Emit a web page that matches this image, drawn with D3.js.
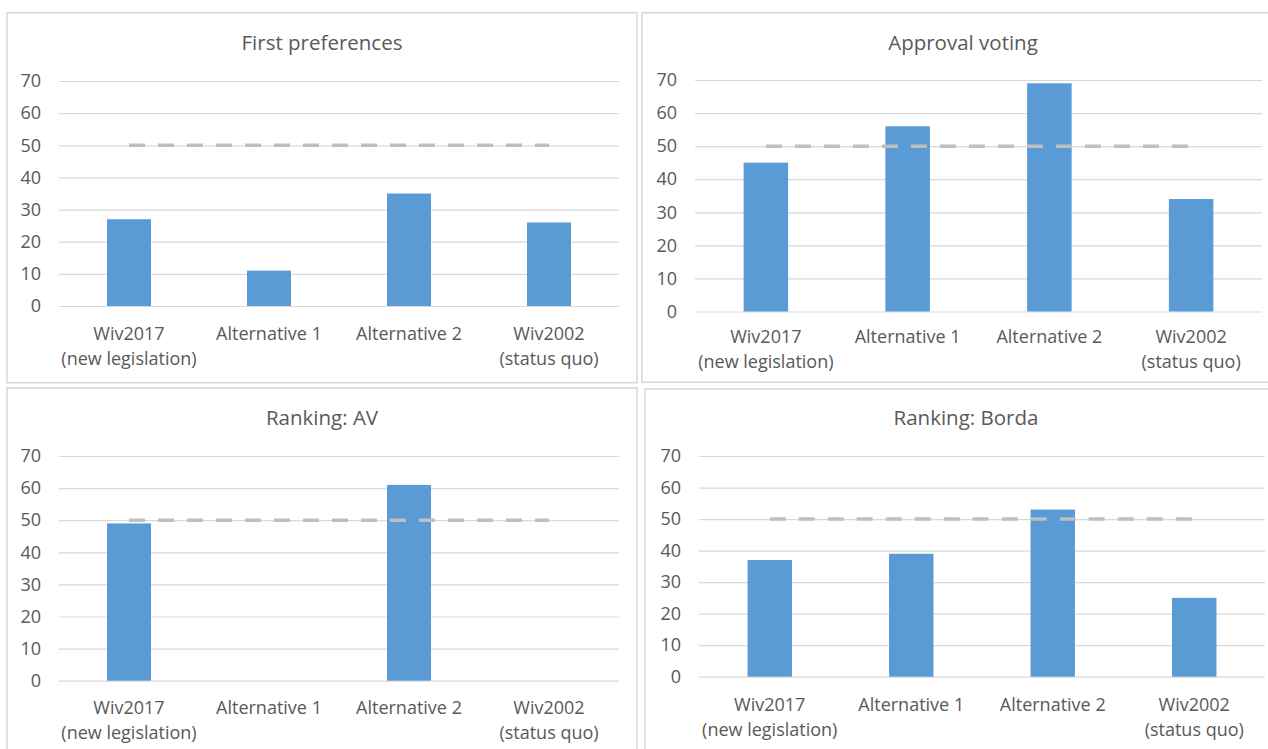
<!DOCTYPE html>
<html>
<head>
<meta charset="utf-8">
<script src="https://cdn.jsdelivr.net/npm/d3@7"></script>
<style>
  html, body { margin: 0; padding: 0; background: #ffffff; }
  svg { display: block; }
  text { font-family: "Open Sans", "Noto Sans", sans-serif; fill: #595959; }
</style>
</head>
<body>
<svg id="chart" width="1268" height="749"></svg>
<script>
// Options compared on each ballot method
const categories = ["Wiv2017", "Alternative 1", "Alternative 2", "Wiv2002"];
const categoryLines = [
  ["Wiv2017", "(new legislation)"],
  ["Alternative 1"],
  ["Alternative 2"],
  ["Wiv2002", "(status quo)"]
];

// Percentage support per option, one array per counting method
const firstPreferences = [27, 11, 35, 26];
const approvalVoting   = [45, 56, 69, 34];
const rankingAV        = [49, 0, 61, 0];
const rankingBorda     = [37, 39, 53, 25];

const panelTitles = ["First preferences", "Approval voting", "Ranking: AV", "Ranking: Borda"];
const panelValues = [firstPreferences, approvalVoting, rankingAV, rankingBorda];

const yTicks = [0, 10, 20, 30, 40, 50, 60, 70];
const yMax = 70;
const majorityLine = 50;

// Frame and plot geometry of each of the four small charts
const layout = [
  { frame: [7, 12.7, 630, 370], plotX: [59, 619],   plotY: [306, 81],   titleY: 50,  labelY: 340 },
  { frame: [642, 12.7, 642, 369.5], plotX: [695, 1262], plotY: [311.5, 80], titleY: 50,  labelY: 343 },
  { frame: [7, 388, 630, 400],  plotX: [59, 619],   plotY: [680.7, 456], titleY: 425, labelY: 714 },
  { frame: [645, 389, 642, 400], plotX: [699, 1265], plotY: [676.7, 456], titleY: 425, labelY: 711 }
];

const svg = d3.select("#chart");

layout.forEach((L, i) => {
  const g = svg.append("g").attr("class", "panel");
  const [fx, fy, fw, fh] = L.frame;

  g.append("rect")
    .attr("x", fx).attr("y", fy)
    .attr("width", fw).attr("height", fh)
    .attr("fill", "#ffffff")
    .attr("stroke", "#d6d6d6")
    .attr("stroke-width", 1.5);

  g.append("text")
    .attr("x", fx + fw / 2)
    .attr("y", L.titleY)
    .attr("text-anchor", "middle")
    .style("font-size", "20.5px")
    .text(panelTitles[i]);

  const x = d3.scaleBand()
    .domain(categories)
    .range(L.plotX)
    .paddingInner(0.686)
    .paddingOuter(0.343);

  const y = d3.scaleLinear()
    .domain([0, yMax])
    .range(L.plotY);

  // horizontal gridlines with value labels
  const yAxis = d3.axisLeft(y)
    .tickValues(yTicks)
    .tickSize(-(L.plotX[1] - L.plotX[0]))
    .tickPadding(18)
    .tickFormat(d3.format("d"));

  const ax = g.append("g")
    .attr("transform", `translate(${L.plotX[0]},0)`)
    .call(yAxis);
  ax.select(".domain").remove();
  ax.selectAll(".tick line")
    .attr("stroke", "#d9d9d9")
    .attr("stroke-width", 1.2);
  ax.selectAll(".tick text")
    .style("font-size", "18px")
    .style("font-family", "'Open Sans', 'Noto Sans', sans-serif")
    .attr("fill", "#595959");

  // bars
  const vals = panelValues[i];
  g.append("g").selectAll("rect")
    .data(categories)
    .join("rect")
    .attr("x", d => x(d))
    .attr("width", x.bandwidth())
    .attr("y", (d, j) => y(vals[j]))
    .attr("height", (d, j) => y(0) - y(vals[j]))
    .attr("fill", "#5b9bd5");

  // 50% threshold, from first to last option
  const cx0 = x(categories[0]) + x.bandwidth() / 2;
  const cx1 = x(categories[categories.length - 1]) + x.bandwidth() / 2;
  g.append("line")
    .attr("x1", cx0).attr("x2", cx1)
    .attr("y1", y(majorityLine)).attr("y2", y(majorityLine))
    .attr("stroke", "#bfbfbf")
    .attr("stroke-width", 3.5)
    .attr("stroke-dasharray", "16,13");

  // category labels, possibly on two lines
  const lbl = g.append("g").selectAll("text")
    .data(categories)
    .join("text")
    .attr("x", d => x(d) + x.bandwidth() / 2)
    .attr("y", L.labelY)
    .attr("text-anchor", "middle")
    .style("font-size", "18px");
  lbl.each(function(d, j) {
    const t = d3.select(this);
    categoryLines[j].forEach((line, k) => {
      t.append("tspan")
        .attr("x", x(d) + x.bandwidth() / 2)
        .attr("dy", k === 0 ? 0 : 25)
        .text(line);
    });
  });
});
</script>
</body>
</html>
